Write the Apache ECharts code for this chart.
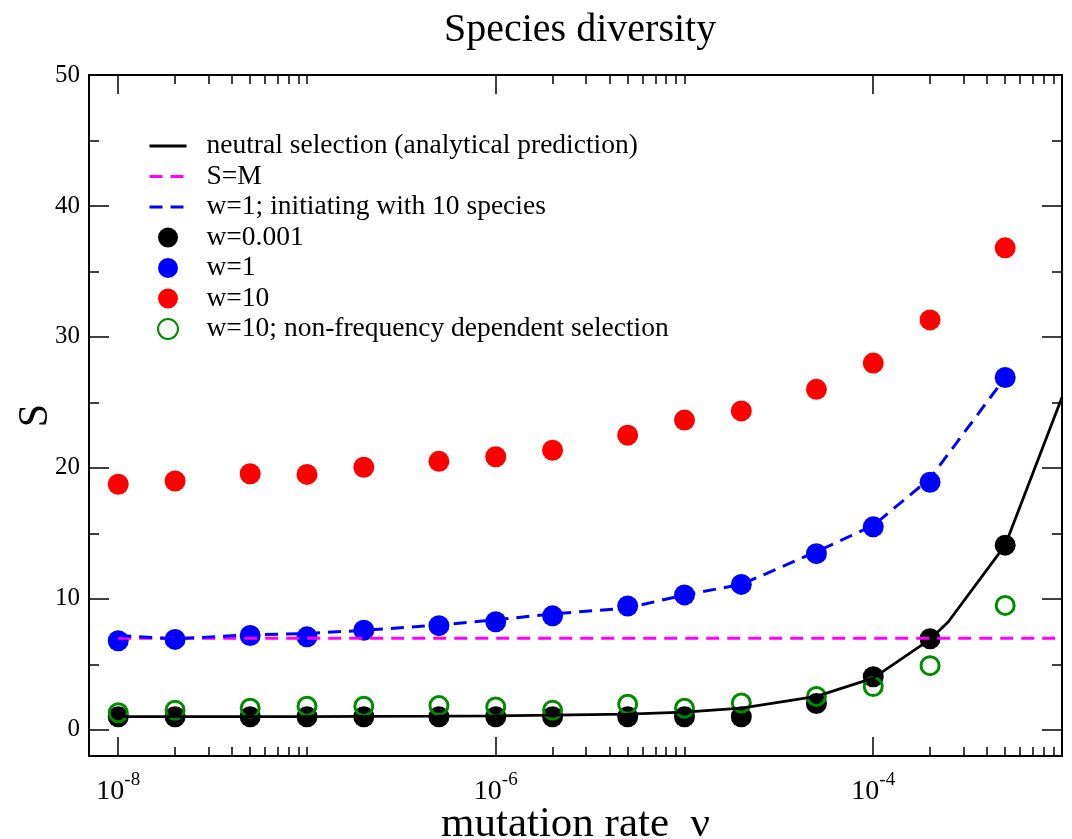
<!DOCTYPE html>
<html>
<head>
<meta charset="utf-8">
<title>Species diversity</title>
<script src="https://cdn.jsdelivr.net/npm/echarts@6/dist/echarts.min.js"></script>
<style>
  html, body { margin: 0; padding: 0; background: #fff; }
  #main { width: 1072px; height: 839px; }
</style>
</head>
<body>
<div id="main"></div>
<script>
// mutation rates used in the simulations
var rates = [1e-8, 2e-8, 5e-8, 1e-7, 2e-7, 5e-7, 1e-6, 2e-6, 5e-6, 1e-5, 2e-5, 5e-5, 1e-4, 2e-4, 5e-4];

// simulated species diversity S
var w0001 = [1.0, 1.0, 1.0, 1.0, 1.0, 1.0, 1.0, 1.0, 1.0, 1.0, 1.0, 2.0, 4.05, 6.95, 14.1];
var w1 = [6.8, 6.9, 7.2, 7.1, 7.6, 7.95, 8.25, 8.7, 9.45, 10.3, 11.1, 13.45, 15.5, 18.9, 26.9];
var w10 = [18.75, 19.0, 19.55, 19.5, 20.05, 20.5, 20.85, 21.35, 22.5, 23.65, 24.35, 26.0, 28.0, 31.3, 36.8];
var w10nfd = [1.3, 1.5, 1.65, 1.8, 1.8, 1.85, 1.75, 1.5, 1.95, 1.65, 2.05, 2.55, 3.3, 4.9, 9.5];

// w=1 started from 10 species (dashed blue)
var w1init10 = [7.2, 6.95, 7.25, 7.35, 7.6, 8.0, 8.4, 8.85, 9.3, 10.3, 11.1, 13.6, 15.6, 19.2, 26.9];

// analytical prediction, neutral selection
var neutralRates = [1e-8, 2e-8, 5e-8, 1e-7, 2e-7, 5e-7, 1e-6, 2e-6, 5e-6, 1e-5, 2e-5, 5e-5, 1e-4, 2e-4, 2.5e-4, 5e-4, 1e-3];
var neutralS = [1.0, 1.0, 1.0, 1.0, 1.02, 1.04, 1.07, 1.12, 1.2, 1.35, 1.65, 2.55, 3.95, 6.9, 8.25, 14.1, 25.4];

// S=M reference line
var smRates = [1e-8, 1e-3];
var smS = [7, 7];

// axes
var xRange = [7e-9, 1e-3];
var yRange = [-2, 50];
var xMajorTicks = [1e-8, 1e-6, 1e-4];
var xMinorTicks = [2e-8, 3e-8, 4e-8, 5e-8, 6e-8, 7e-8, 8e-8, 9e-8, 1e-7,
                   2e-6, 3e-6, 4e-6, 5e-6, 6e-6, 7e-6, 8e-6, 9e-6, 1e-5,
                   2e-4, 3e-4, 4e-4, 5e-4, 6e-4, 7e-4, 8e-4, 9e-4, 1e-3];
var yMajorTicks = [0, 10, 20, 30, 40, 50];
var yMinorTicks = [5, 15, 25, 35, 45];

var FONT = '"Liberation Serif", "DejaVu Serif", serif';

function lx(v) { return Math.log10(v); }
function pairs(xs, ys) {
  return xs.map(function (x, i) { return [lx(x), ys[i]]; });
}

function xAxisDef(pos, ticks, len, withLabels) {
  var ax = {
    type: 'value',
    position: pos,
    min: lx(xRange[0]),
    max: lx(xRange[1]),
    axisLine: { show: true, onZero: false, lineStyle: { color: '#000', width: 2 } },
    axisTick: { show: true, inside: true, length: len, customValues: ticks.map(lx),
                lineStyle: { color: '#000', width: 1.5 } },
    axisLabel: { show: false },
    splitLine: { show: false }
  };
  if (withLabels) {
    ax.axisLabel = {
      show: true,
      margin: 15,
      customValues: xMajorTicks.map(lx),
      formatter: function (v) { return '{b|10}{s|' + Math.round(v) + '}'; },
      rich: {
        b: { fontFamily: FONT, fontSize: 28, color: '#000', lineHeight: 42 },
        s: { fontFamily: FONT, fontSize: 19, color: '#000', verticalAlign: 'top' }
      }
    };
    ax.name = 'mutation rate  \u03bd';
    ax.nameLocation = 'middle';
    ax.nameGap = 47;
    ax.nameMoveOverlap = false;
    ax.nameTextStyle = { fontFamily: FONT, fontSize: 43, color: '#000' };
  }
  return ax;
}

function yAxisDef(pos, ticks, len, withLabels) {
  var ax = {
    type: 'value',
    position: pos,
    min: yRange[0],
    max: yRange[1],
    axisLine: { show: true, onZero: false, lineStyle: { color: '#000', width: 2 } },
    axisTick: { show: true, inside: true, length: len, customValues: ticks,
                lineStyle: { color: '#000', width: 1.5 } },
    axisLabel: { show: false },
    splitLine: { show: false }
  };
  if (withLabels) {
    ax.axisLabel = {
      show: true, margin: 9, customValues: yMajorTicks,
      fontFamily: FONT, fontSize: 25, color: '#000'
    };
    ax.name = 'S';
    ax.nameLocation = 'middle';
    ax.nameGap = 32;
    ax.nameRotate = 90;
    ax.nameMoveOverlap = false;
    ax.nameTextStyle = { fontFamily: FONT, fontSize: 42, color: '#000' };
  }
  return ax;
}

var myChart = echarts.init(document.getElementById('main'));

var option = {
  animation: false,
  backgroundColor: '#fff',
  title: {
    text: 'Species diversity',
    left: 439,
    top: 5,
    textStyle: { fontFamily: FONT, fontSize: 40, fontWeight: 'normal', color: '#000' }
  },
  legend: {
    orient: 'vertical',
    left: 148,
    top: 132,
    padding: 0,
    itemWidth: 37,
    itemHeight: 20,
    itemGap: 2.5,
    selectedMode: false,
    lineStyle: { width: 3 },
    textStyle: { fontFamily: FONT, fontSize: 27.5, color: '#000', lineHeight: 28, padding: [0, 0, 0, 15] }
  },
  grid: { left: 89, right: 10, top: 75, bottom: 83, containLabel: false, outerBoundsMode: 'none' },
  xAxis: [
    xAxisDef('bottom', xMajorTicks, 19, true),
    xAxisDef('bottom', xMinorTicks, 9, false),
    xAxisDef('top', xMajorTicks, 19, false),
    xAxisDef('top', xMinorTicks, 9, false)
  ],
  yAxis: [
    yAxisDef('left', yMajorTicks, 20, true),
    yAxisDef('left', yMinorTicks, 10, false),
    yAxisDef('right', yMajorTicks, 20, false),
    yAxisDef('right', yMinorTicks, 10, false)
  ],
  series: [
    {
      name: 'neutral selection (analytical prediction)',
      type: 'line',
      symbol: 'none',
      data: pairs(neutralRates, neutralS),
      lineStyle: { color: '#000', width: 2.8 },
      itemStyle: { color: '#000', opacity: 0 },
      silent: true
    },
    {
      name: 'S=M',
      type: 'line',
      symbol: 'none',
      data: pairs(smRates, smS),
      lineStyle: { color: '#ff00ff', width: 3, type: [13, 8] },
      itemStyle: { color: '#ff00ff', opacity: 0 },
      silent: true
    },
    {
      name: 'w=1; initiating with 10 species',
      type: 'line',
      symbol: 'none',
      data: pairs(rates, w1init10),
      lineStyle: { color: '#0000ff', width: 3, type: [13, 8] },
      itemStyle: { color: '#0000ff', opacity: 0 },
      silent: true
    },
    {
      name: 'w=0.001',
      type: 'scatter',
      symbol: 'circle',
      symbolSize: 21,
      data: pairs(rates, w0001),
      itemStyle: { color: '#000', opacity: 1 },
      silent: true
    },
    {
      name: 'w=1',
      type: 'scatter',
      symbol: 'circle',
      symbolSize: 21,
      data: pairs(rates, w1),
      itemStyle: { color: '#0000ff', opacity: 1 },
      silent: true
    },
    {
      name: 'w=10',
      type: 'scatter',
      symbol: 'circle',
      symbolSize: 21,
      data: pairs(rates, w10),
      itemStyle: { color: '#ff0000', opacity: 1 },
      silent: true
    },
    {
      name: 'w=10; non-frequency dependent selection',
      type: 'scatter',
      symbol: 'circle',
      symbolSize: 18,
      data: pairs(rates, w10nfd),
      itemStyle: { color: 'rgba(0,0,0,0)', borderColor: '#008b00', borderWidth: 3, opacity: 1 },
      silent: true
    }
  ]
};

myChart.setOption(option);
</script>
</body>
</html>
